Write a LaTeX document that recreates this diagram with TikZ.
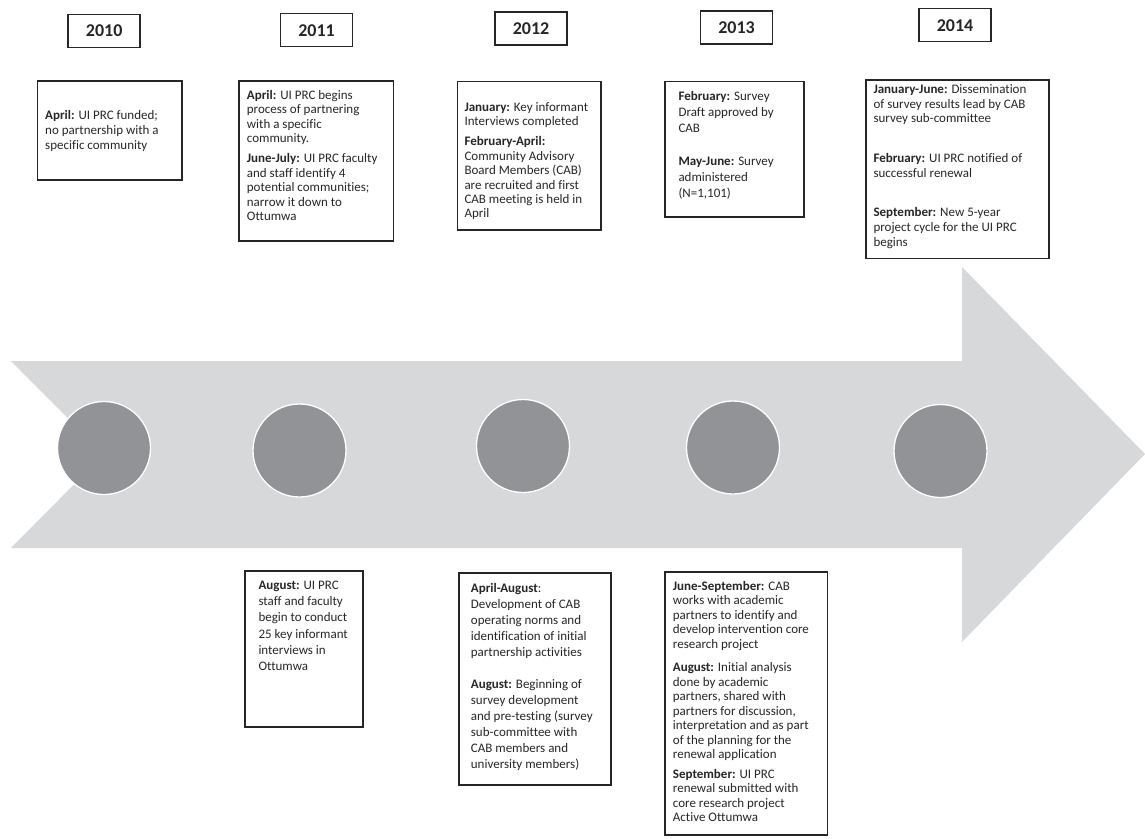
\documentclass[tikz,border=0pt]{standalone}
\usepackage{fontspec}
\setmainfont{Carlito}[Ligatures={NoCommon}]
\definecolor{arrowgray}{HTML}{D7D8DA}
\definecolor{dotgray}{HTML}{929396}
\definecolor{ink}{HTML}{262626}
\tikzset{
  yearbox/.style={draw=ink, line width=1.5pt, minimum width=72pt, minimum height=33pt, inner sep=0pt, text=ink, font=\fontsize{18}{20}\selectfont\bfseries},
  evbox/.style={draw=ink, line width=1.5pt, inner sep=0pt, anchor=north west},
  evtext/.style={align=left, inner sep=0pt, anchor=north west, text=ink},
  dot/.style={circle, fill=dotgray, draw=white, line width=1.3pt, minimum size=93pt, inner sep=0pt}
}
\newcommand{\fs}[1]{\fontsize{13}{#1}\selectfont}
\begin{document}
\begin{tikzpicture}[x=1pt,y=-1pt]
\useasboundingbox (0,0) rectangle (1145,838);
% big arrow
\fill[arrowgray] (11,361) -- (962,361) -- (962,267) -- (1145,454) -- (962,642) -- (962,548) -- (11,548) -- (104,454) -- cycle;
% circles
\node[dot] (c1) at (104,448) {};
\node[dot] (c2) at (299.5,450.5) {};
\node[dot] (c3) at (523,446) {};
\node[dot] (c4) at (733,447.5) {};
\node[dot] (c5) at (940.5,451) {};
% year labels
\node[yearbox] (y2010) at (104.2,31) {2010};
\node[yearbox] (y2011) at (316.5,30.2) {2011};
\node[yearbox] (y2012) at (531,28.3) {2012};
\node[yearbox] (y2013) at (736.5,27.7) {2013};
\node[yearbox] (y2014) at (955,25.2) {2014};
% top boxes
\node[evbox, minimum width=144.3pt, minimum height=99.3pt] (b2010) at (36.7,80) {};
\node[evbox, minimum width=154.4pt, minimum height=160pt] (b2011) at (238.3,80) {};
\node[evbox, minimum width=143.6pt, minimum height=148.6pt] (b2012) at (456.7,80.7) {};
\node[evbox, minimum width=139pt, minimum height=135.3pt] (b2013) at (664.3,80.7) {};
\node[evbox, minimum width=183pt, minimum height=178.7pt] (b2014) at (865,79) {};
% bottom boxes
\node[evbox, minimum width=118pt, minimum height=156pt] (d2011) at (244.3,570) {};
\node[evbox, minimum width=151.7pt, minimum height=211.7pt] (d2012) at (458.3,572.3) {};
\node[evbox, minimum width=162.4pt, minimum height=263pt] (d2013) at (664.3,571) {};
% texts
\node[evtext, font=\fs{15}] (t2010) at (45,110) {\textbf{April:} UI PRC funded;\\no partnership with a\\specific community};
\node[evtext, font=\fs{14.5}] (t2011) at (246.7,90) {\textbf{April:} UI PRC begins\\process of partnering\\with a specific\\community.\\[5.5pt]\textbf{June-July:} UI PRC faculty\\and staff identify 4\\potential communities;\\narrow it down to\\Ottumwa};
\node[evtext, font=\fs{14.4}] (t2012) at (464.3,102.3) {\textbf{January:} Key informant\\Interviews completed\\[5.6pt]\textbf{February-April:}\\Community Advisory\\Board Members (CAB)\\are recruited and first\\CAB meeting is held in\\April};
\node[evtext, font=\fs{16}] (t2013) at (678.3,91) {\textbf{February:} Survey\\Draft approved by\\CAB\\[17pt]\textbf{May-June:} Survey\\administered\\(N=1,101)};
\node[evtext, font=\fs{14.7}] (t2014) at (873.3,84.3) {\textbf{January-June:} Dissemination\\of survey results lead by CAB\\survey sub-committee\\[25pt]\textbf{February:} UI PRC notified of\\successful renewal\\[25pt]\textbf{September:} New 5-year\\project cycle for the UI PRC\\begins};
\node[evtext, font=\fs{16.3}] (s2011) at (258.3,580.7) {\textbf{August:} UI PRC\\staff and faculty\\begin to conduct\\25 key informant\\interviews in\\Ottumwa};
\node[evtext, font=\fs{16}] (s2012) at (470.7,583.3) {\textbf{April-August}:\\Development of CAB\\operating norms and\\identification of initial\\partnership activities\\[16pt]\textbf{August:} Beginning of\\survey development\\and pre-testing (survey\\sub-committee with\\CAB members and\\university members)};
\node[evtext, font=\fs{14.5}] (s2013) at (672.7,581) {\textbf{June-September:} CAB\\works with academic\\partners to identify and\\develop intervention core\\research project\\[9pt]\textbf{August:} Initial analysis\\done by academic\\partners, shared with\\partners for discussion,\\interpretation and as part\\of the planning for the\\renewal application\\[5pt]\textbf{September:} UI PRC\\renewal submitted with\\core research project\\Active Ottumwa};
\end{tikzpicture}
\end{document}
